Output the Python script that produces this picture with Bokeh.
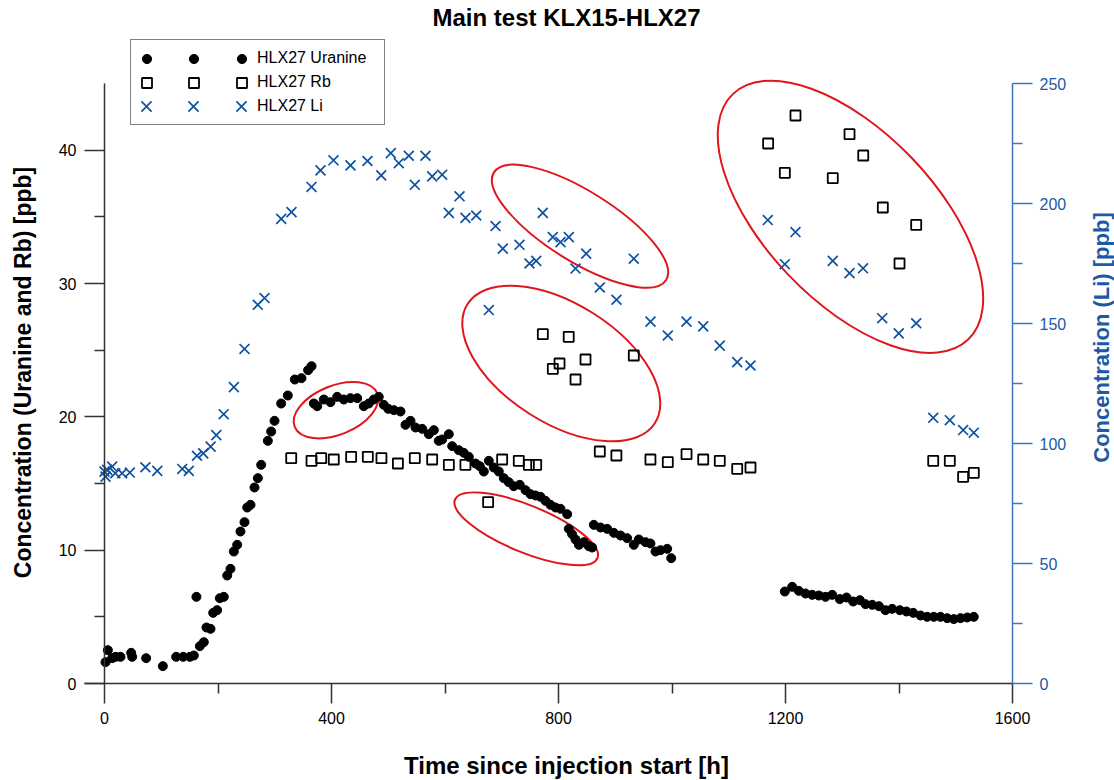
import math
from bokeh.plotting import figure
from bokeh.models import Range1d, LinearAxis, FixedTicker, Legend, LegendItem, Label
from bokeh.embed import file_html
from bokeh.resources import INLINE

# ---------------- data ----------------
uranine_h = [1.8, 5.9, 13.5, 19.4, 28.2, 47, 48.8, 73.4, 102.8, 126.3, 138.6, 150.4, 157.4, 162,
             168, 175, 179.7, 186.8, 191.5, 198.5, 203.2, 210.2, 216.2, 222, 227.9, 233.8, 239.6,
             246.7, 251.5, 257.3, 264.3, 270.2, 276.1, 287.8, 293.7, 299.6, 311.3, 323, 335.4,
             347.1, 358.8, 364.8, 368.9, 374.8, 386.5, 398.2, 410, 421.7, 433.5, 445.3, 456.9,
             465.7, 474.5, 483.3, 492.2, 500, 510, 521.6, 530.4, 539.2, 548, 559.8, 571.5, 580.3,
             589, 595, 606.7, 612.7, 624.3, 633.1, 642, 653.7, 661.3, 668.4, 677.2, 686, 694.8,
             703.6, 712.4, 721.2, 731.8, 741.9, 750.7, 759.5, 768.3, 777.1, 785.9, 794.7, 803.5,
             815.3, 818.2, 824, 830, 835.9, 844.6, 853.4, 859.3, 862.2, 874, 885.8, 897.5, 909.3,
             921, 932.7, 941.5, 953.3, 962, 970.9, 979.7, 991.5, 998.6,
             1198.8, 1211.8, 1223.4, 1235.2, 1247, 1258.7, 1270.5, 1282.3, 1295.7, 1307.5, 1319.2,
             1331, 1341, 1352.8, 1364.5, 1376.2, 1388, 1401.4, 1413.2, 1425, 1437.9, 1449.7,
             1461.3, 1473.1, 1484.9, 1496.6, 1508.4, 1520.2, 1531.8]
uranine_v = [1.6, 2.5, 1.9, 2.0, 2.0, 2.3, 2.0, 1.9, 1.3, 2.0, 2.0, 2.0, 2.1, 6.5,
             2.8, 3.1, 4.2, 4.1, 5.3, 5.5, 6.4, 6.5, 8.1, 8.6, 9.9, 10.4, 11.4,
             12.1, 13.2, 13.4, 14.7, 15.4, 16.4, 18.2, 18.9, 19.7, 21.0, 21.6, 22.8,
             22.9, 23.5, 23.8, 21.0, 20.8, 21.3, 21.1, 21.5, 21.3, 21.4, 21.4, 20.8,
             21.0, 21.3, 21.5, 20.9, 20.6, 20.5, 20.4, 19.4, 19.7, 19.2, 19.1, 18.7, 19.0,
             18.2, 18.3, 18.7, 17.8, 17.5, 17.3, 17.0, 16.5, 16.3, 15.9, 16.7, 16.2, 15.9,
             15.4, 15.1, 14.8, 14.9, 14.5, 14.2, 14.1, 14.0, 13.7, 13.4, 13.2, 13.1,
             12.7, 11.6, 11.2, 10.8, 10.4, 10.6, 10.3, 10.2, 11.9, 11.7, 11.6, 11.3, 11.1,
             10.9, 10.4, 10.8, 10.6, 10.5, 9.9, 10.0, 10.1, 9.4,
             6.9, 7.25, 6.95, 6.75, 6.65, 6.6, 6.5, 6.65, 6.33, 6.45, 6.15,
             6.25, 5.95, 5.9, 5.8, 5.5, 5.6, 5.5, 5.4, 5.3, 5.1, 5.0,
             5.0, 5.0, 4.9, 4.83, 4.9, 4.95, 5.0]

rb_h = [329, 364.8, 381.8, 404, 434.6, 464, 488, 517, 546.8, 577.4, 606.8, 636, 676, 700.7,
        730, 747.7, 760.7, 772.4, 790, 801.8, 818, 830, 847.6, 872.8, 902, 932.7, 962, 992.6,
        1025.6, 1055, 1084.2, 1114.9, 1138.3, 1169.4, 1198.8, 1217.6, 1283.3, 1312.8, 1337,
        1371.5, 1400.9, 1430.3, 1460.3, 1489.5, 1513, 1531.8]
rb_v = [16.9, 16.7, 16.9, 16.8, 17.0, 17.0, 16.9, 16.5, 16.9, 16.8, 16.4, 16.4, 13.6, 16.8,
        16.7, 16.4, 16.4, 26.2, 23.6, 24.0, 26.0, 22.8, 24.3, 17.4, 17.1, 24.6, 16.8, 16.6,
        17.2, 16.8, 16.7, 16.1, 16.2, 40.5, 38.3, 42.6, 37.9, 41.2, 39.6,
        35.7, 31.5, 34.4, 16.7, 16.7, 15.5, 15.8]

li_h = [0, 1.8, 4.7, 13.5, 19, 31, 44.6, 72, 93, 137, 148.6, 163, 174, 187, 197, 210, 228,
        246.7, 270.1, 282, 311.4, 329.5, 364.8, 380.6, 403.5, 433.5, 463.4, 487.6, 504.5,
        518.6, 536.2, 546.8, 565.6, 577.4, 595, 606.7, 625.6, 636.1, 655, 677.2, 689, 701.9,
        731.3, 748.9, 760.7, 772.3, 790, 803.5, 818.2, 830, 848.8, 872.8, 902.2, 932.7, 962.1,
        992.6, 1025.6, 1055, 1084.2, 1114.9, 1138.3, 1168.8, 1198.8, 1217.6, 1283.3, 1312.8,
        1336.6, 1370.4, 1399.6, 1430.3, 1460.3, 1489.5, 1513.1, 1531.8]
li_v = [88.3, 86.2, 89.0, 90.4, 87.6, 87.6, 87.9, 90.1, 88.6, 89.4, 88.6, 94.9, 95.9, 98.7,
        103.5, 112.2, 123.5, 139.4, 157.8, 160.6, 193.6, 196.4, 206.9, 213.8, 218.0, 215.9,
        217.7, 211.7, 221.0, 216.8, 219.9, 207.8, 219.9, 211.3, 212.0, 196.1, 203.0, 194.0,
        195.0, 155.6, 190.6, 181.2, 182.8, 175.0, 176.1, 196.1, 186.0, 183.9, 186.0, 172.9,
        179.1, 165.0, 159.9, 177.0, 150.8, 145.0, 150.8, 148.8, 140.8, 133.9, 132.5, 193.1,
        174.7, 188.1, 176.1, 171.0, 173.0, 152.2, 145.9, 150.1, 110.7, 109.7, 105.6, 104.5]

series_labels = ["HLX27 Uranine", "HLX27 Rb", "HLX27 Li"]
x_ticks = [0, 400, 800, 1200, 1600]
x_minor = [200, 600, 1000, 1400]
left_ticks = [0, 10, 20, 30, 40]
left_minor = [5, 15, 25, 35]
right_ticks = [0, 50, 100, 150, 200, 250]
right_minor = [25, 75, 125, 175, 225]

# red highlight ellipses (annotation): centre (h, ppb), size in px, angle in degrees
ell_x = [407.9, 837.9, 804.9, 1314.5, 743.1]
ell_y = [20.5, 34.3, 24.0, 35.0, 11.6]
ell_w = [89, 203, 222, 340, 154]
ell_hh = [49, 70, 119, 170, 47]
ell_a = [22, -32, -32.4, -46.2, -22.3]

# ---------------- layout constants ----------------
X_MIN, X_MAX = 0, 1600          # bottom axis extent
L_MAX, R_MAX = 45, 250          # left / right axis extents
PX_PER_H = 908 / 1600           # screen scale of x axis
PX_PER_PPB = 600 / 45           # screen scale of left axis
AX_LEFT_PX, AX_BOTTOM_PX = 104, 683
W, H = 1114, 780

x_start = -AX_LEFT_PX / PX_PER_H
x_end = (W - AX_LEFT_PX) / PX_PER_H
y_start = -(H - AX_BOTTOM_PX) / PX_PER_PPB
y_end = AX_BOTTOM_PX / PX_PER_PPB
k = R_MAX / L_MAX

FONT = "Liberation Sans"
BLUE_M = "#0d52a0"
BLUE_AX = "#3b75bd"
BLUE_TX = "#1c5aa5"
AXC = "#333333"

p = figure(width=W, height=H, output_backend="svg", toolbar_location=None,
           x_range=Range1d(x_start, x_end), y_range=Range1d(y_start, y_end),
           min_border=0, min_border_left=0, min_border_right=0,
           min_border_top=0, min_border_bottom=0)
p.outline_line_color = None
p.xgrid.visible = False
p.ygrid.visible = False
p.background_fill_color = "white"


def style_axis(ax, color, label_color, standoff):
    ax.axis_line_color = color
    ax.axis_line_width = 1.5
    ax.major_tick_line_color = color
    ax.minor_tick_line_color = color
    ax.major_tick_line_width = 1.5
    ax.minor_tick_line_width = 1.5
    ax.major_tick_out = 20
    ax.major_tick_in = 0
    ax.minor_tick_out = 10
    ax.minor_tick_in = 0
    ax.major_label_standoff = standoff
    ax.major_label_text_font = FONT
    ax.major_label_text_font_size = "16px"
    ax.major_label_text_color = label_color


xa = p.below[0]
xa.ticker = FixedTicker(ticks=x_ticks, minor_ticks=x_minor)
xa.fixed_location = 0
xa.bounds = (-35, X_MAX)
style_axis(xa, AXC, "black", 8)

ya = p.left[0]
ya.ticker = FixedTicker(ticks=left_ticks, minor_ticks=left_minor)
ya.fixed_location = X_MIN
ya.bounds = (0, L_MAX)
style_axis(ya, AXC, "black", 8)

p.extra_y_ranges = {"li": Range1d(y_start * k, y_end * k)}
ra = LinearAxis(y_range_name="li", ticker=FixedTicker(ticks=right_ticks, minor_ticks=right_minor))
ra.fixed_location = X_MAX
ra.bounds = (0, R_MAX)
style_axis(ra, BLUE_AX, BLUE_TX, 7)
p.add_layout(ra, "right")

# ellipses
p.ellipse(x=ell_x, y=ell_y, width=ell_w, height=ell_hh, angle=[math.radians(a) for a in ell_a],
          width_units="screen", height_units="screen",
          fill_color=None, line_color="#e0161d", line_width=2)

r_u = p.scatter(uranine_h, uranine_v, marker="circle", size=9,
                fill_color="black", line_color="black")
r_rb = p.scatter(rb_h, rb_v, marker="square", size=10, fill_color=None,
                 line_color="black", line_width=1.8)
r_li = p.scatter(li_h, li_v, marker="x", size=14, line_color=BLUE_M, line_width=1.7,
                 y_range_name="li")
renderers = [r_u, r_rb, r_li]

# invisible swatch for the boxed legend (box + labels only)
dummy = p.scatter(x=[], y=[], marker="circle", size=1, fill_alpha=0, line_alpha=0)

LEG_BOTTOM = H - 125
leg_main = Legend(items=[LegendItem(label=lab, renderers=[dummy]) for lab in series_labels],
                  location=(130, LEG_BOTTOM), orientation="vertical", padding=7, spacing=2,
                  glyph_width=112, glyph_height=22, label_height=22, label_width=120,
                  label_standoff=7,
                  label_text_font=FONT, label_text_font_size="16px", label_text_color="black",
                  border_line_color="black", border_line_width=1,
                  background_fill_color="white", background_fill_alpha=1.0)
p.add_layout(leg_main)

# three swatches per series (screen px centres) drawn by borderless legends
row_y = [58.3, 82.3, 106]
col_x = [146, 193, 241]
glyph_px = [23, 25, 36]
for r, yc, g in zip(renderers, row_y, glyph_px):
    for xc in col_x:
        lg = Legend(items=[LegendItem(label=" ", renderers=[r])],
                    location=(xc - g / 2, H - yc - g / 2), orientation="vertical",
                    padding=0, spacing=0, margin=0,
                    glyph_width=g, glyph_height=g, label_height=g, label_width=0,
                    label_standoff=0, label_text_font_size="1px",
                    border_line_color=None, background_fill_alpha=0.0)
        p.add_layout(lg)


def sx(px):
    return (px - AX_LEFT_PX) / PX_PER_H


def sy(py):
    return (AX_BOTTOM_PX - py) / PX_PER_PPB


# texts
p.add_layout(Label(x=sx(566), y=sy(17), text="Main test KLX15-HLX27", text_font=FONT,
                   text_font_size="24px", text_font_style="bold", text_color="black",
                   text_align="center", text_baseline="middle"))
p.add_layout(Label(x=sx(566), y=sy(765), text="Time since injection start [h]", text_font=FONT,
                   text_font_size="24px", text_font_style="bold", text_color="black",
                   text_align="center", text_baseline="middle"))
p.add_layout(Label(x=sx(22), y=sy(372), text="Concentration (Uranine and Rb) [ppb]", text_font=FONT,
                   text_font_size="23px", text_font_style="bold", text_color="black",
                   text_align="center", text_baseline="middle", angle=math.pi / 2))
p.add_layout(Label(x=sx(1101), y=sy(337), text="Concentration (Li) [ppb]", text_font=FONT,
                   text_font_size="22px", text_font_style="bold", text_color=BLUE_TX,
                   text_align="center", text_baseline="middle", angle=math.pi / 2))

open("out.html", "w").write(file_html(p, INLINE))
